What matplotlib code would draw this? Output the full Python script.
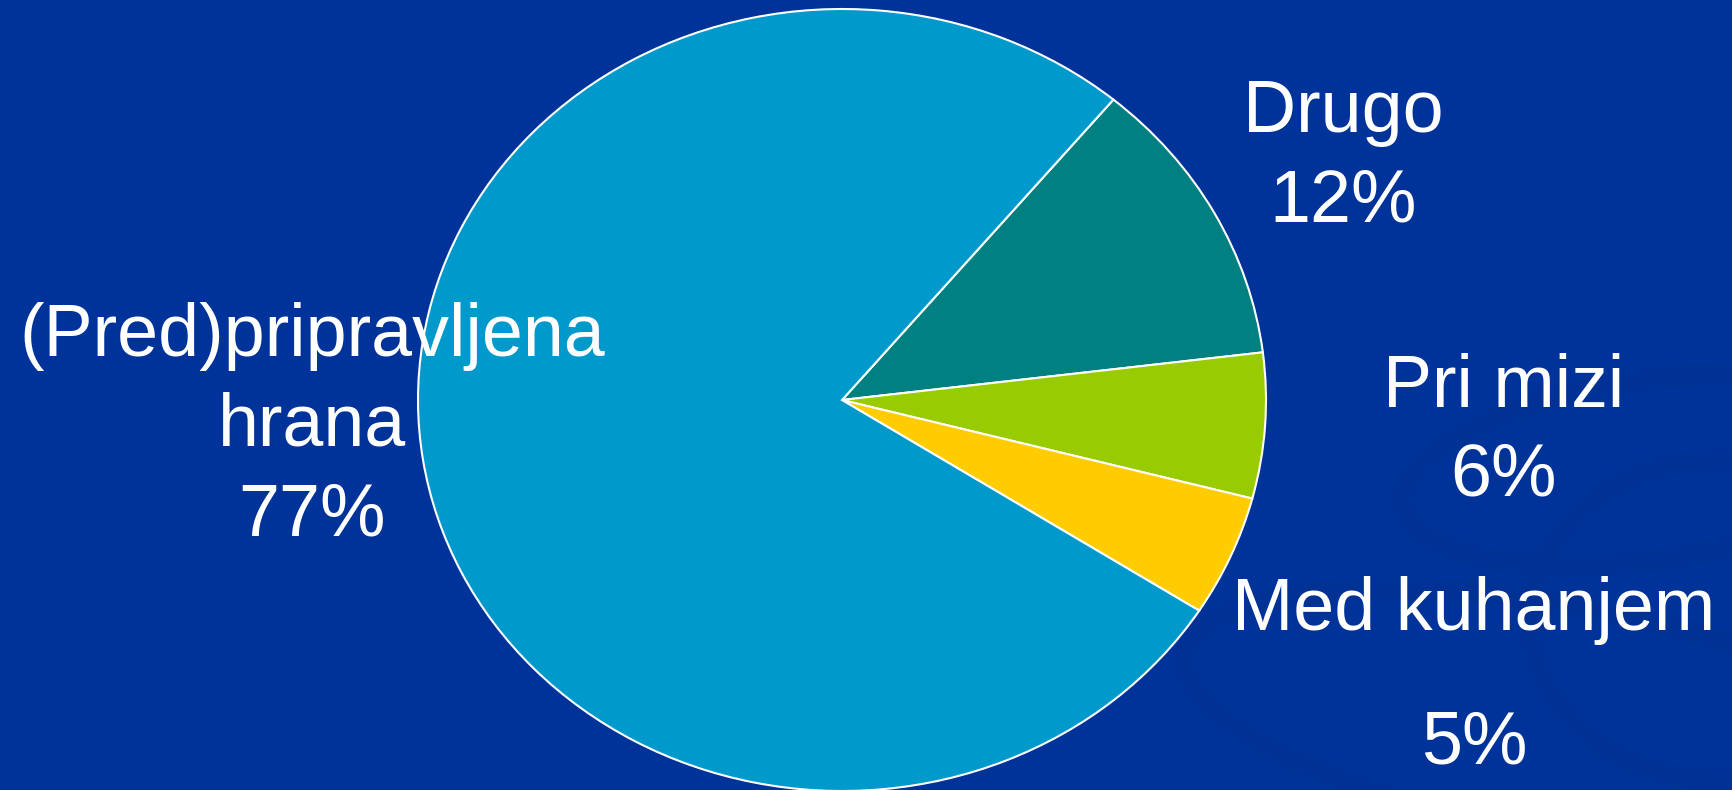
import matplotlib.pyplot as plt
from matplotlib.patches import Ellipse

W, H = 1733, 790

categories = ['Drugo', 'Pri mizi', 'Med kuhanjem', '(Pred)pripravljena\nhrana']
shares = [12, 6, 5, 77]
pct_labels = ['12%', '6%', '5%', '77%']
colors = ['#008080', '#99CC00', '#FFCC00', '#0099CC']

fig = plt.figure(figsize=(W / 100, H / 100), dpi=100)
fig.patch.set_facecolor('#003399')

# faint swooshes in the background
bg = fig.add_axes([0, 0, 1, 1])
bg.set_xlim(0, W)
bg.set_ylim(H, 0)
bg.axis('off')
bg.set_facecolor('none')
for (cx, cy, w, h, a) in [(1650, 470, 500, 180, -8), (1560, 720, 760, 230, 10), (1720, 620, 380, 320, 0)]:
    bg.add_patch(Ellipse((cx, cy), w, h, angle=a, facecolor='none',
                         edgecolor='#002f8e', lw=16, alpha=0.45))

# pie stretched into an ellipse: 1 unit = 424 px across, 391 px up
ax = fig.add_axes([0, 0, 1, 1])
ax.pie(shares, colors=colors, startangle=50.2, counterclock=False,
       wedgeprops=dict(edgecolor='white', linewidth=1.5))
ax.set_aspect('auto')
ax.set_xlim(-842 / 424, (W - 842) / 424)
ax.set_ylim(-390 / 391, 400 / 391)
ax.axis('off')

font = dict(family='Liberation Sans', fontsize=53, color='white', ha='center', va='baseline')


def line(x, y, s):
    fig.text(x / W, 1 - y / H, s, **font)


name_lines = [c.split('\n') for c in categories]
# Drugo
line(1343, 132, name_lines[0][0])
line(1343, 222, pct_labels[0])
# Pri mizi
line(1504, 407, name_lines[1][0])
line(1504, 495, pct_labels[1])
# Med kuhanjem
line(1474, 630, name_lines[2][0])
line(1474, 763, pct_labels[2])
# (Pred)pripravljena hrana
line(312, 356, name_lines[3][0])
line(312, 445, name_lines[3][1])
line(312, 536, pct_labels[3])

fig.savefig('out.png', dpi=100, facecolor=fig.get_facecolor())
